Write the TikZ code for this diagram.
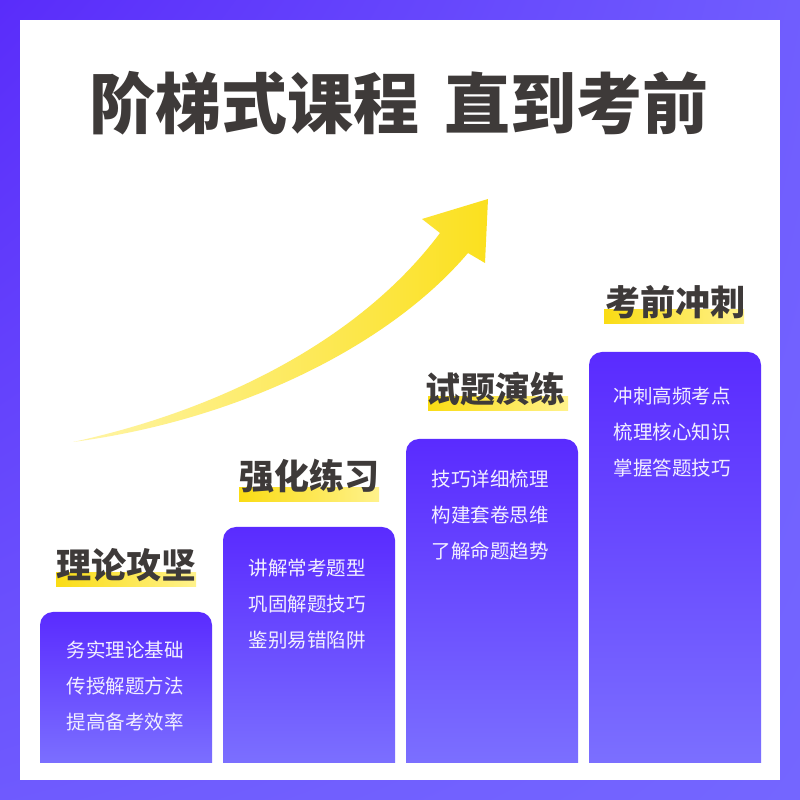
\documentclass[tikz,border=0pt]{standalone}
\usepackage{fontspec}
\usetikzlibrary{shadings}
\newfontfamily\cjk{Noto Sans CJK SC}
\definecolor{framedark}{HTML}{5A2CFA}
\definecolor{framelight}{HTML}{7466FF}
\definecolor{coltop}{HTML}{5A2BFF}
\definecolor{colbottom}{HTML}{7B6FFF}
\definecolor{inkgray}{HTML}{3E3A39}
\definecolor{markgold}{HTML}{FADC14}
\definecolor{markpale}{HTML}{FFF28C}
\definecolor{arrowgold}{HTML}{FBE01E}
\definecolor{arrowpale}{HTML}{FFF5A8}
\definecolor{itemwhite}{HTML}{F2EFFF}
\begin{document}
\begin{tikzpicture}[x=1pt,y=1pt,
      heading/.style={inner sep=0pt,text=inkgray,font=\cjk\bfseries\fontsize{35}{35}\selectfont},
      itemlines/.style={inner sep=0pt,align=center,text=itemwhite,font=\cjk\fontsize{19.5}{36}\selectfont},
      highlight/.style={left color=markgold,right color=markpale},
      stepcol/.style={top color=coltop,bottom color=colbottom}]
      \useasboundingbox (0,0) rectangle (800,800);
      \shade[upper left=framedark,upper right=framelight!85!framedark,
        lower left=framelight!80!framedark,lower right=framelight] (0,0) rectangle (800,800);
      \fill[white] (20,20) rectangle (780,780);
      \path (399,697) node[inner sep=0pt,text=inkgray,font=\cjk\bfseries\fontsize{66}{66}\selectfont] (title) {阶梯式课程\hspace{26pt}直到考前};
      \shade[left color=arrowpale,right color=arrowgold] (73,358) .. controls (220,390) and (360,460) .. (440,567)
        -- (422,581) -- (488,601) -- (485,537) -- (468,547) .. controls (390,455) and (240,380) .. (73,358) -- cycle;
      \shade[stepcol] (40,37) -- (40,175) arc[start angle=180,end angle=90,radius=13] -- (199,188)
        arc[start angle=90,end angle=0,radius=13] -- (212,37) -- cycle;
      \shade[stepcol] (223,37) -- (223,260) arc[start angle=180,end angle=90,radius=13] -- (382,273)
        arc[start angle=90,end angle=0,radius=13] -- (395,37) -- cycle;
      \shade[stepcol] (406,37) -- (406,348) arc[start angle=180,end angle=90,radius=13] -- (565,361)
        arc[start angle=90,end angle=0,radius=13] -- (578,37) -- cycle;
      \shade[stepcol] (589,37) -- (589,435) arc[start angle=180,end angle=90,radius=13] -- (748,448)
        arc[start angle=90,end angle=0,radius=13] -- (761,37) -- cycle;
      \shade[highlight] (56,213) rectangle (196,227);
      \shade[highlight] (239,298) rectangle (379,312);
      \shade[highlight] (428,389) rectangle (568,403);
      \shade[highlight] (604,476) rectangle (744,490);
      \path (126,235) node[heading] (h1) {理论攻坚};
      \path (309,324) node[heading] (h2) {强化练习};
      \path (495,411) node[heading] (h3) {试题演练};
      \path (675,498) node[heading] (h4) {考前冲刺};
      \path (125,114) node[itemlines] (l1) {务实理论基础\\传授解题方法\\提高备考效率};
      \path (307,196) node[itemlines] (l2) {讲解常考题型\\巩固解题技巧\\鉴别易错陷阱};
      \path (490,285) node[itemlines] (l3) {技巧详细梳理\\构建套卷思维\\了解命题趋势};
      \path (672,368) node[itemlines] (l4) {冲刺高频考点\\梳理核心知识\\掌握答题技巧};
     \end{tikzpicture}
\end{document}
